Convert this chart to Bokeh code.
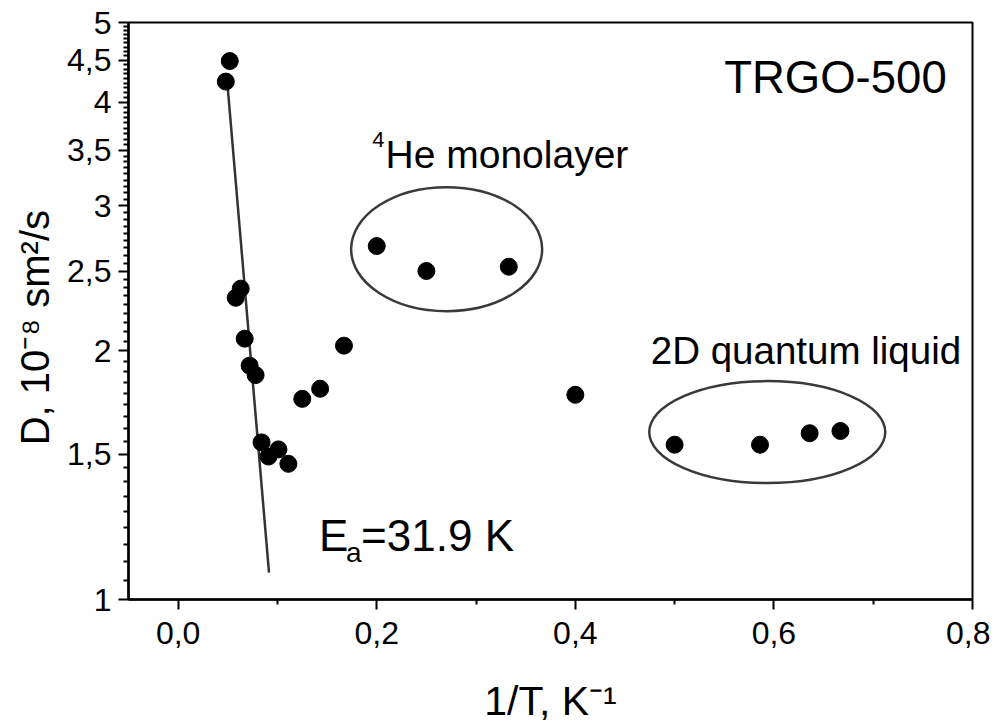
from bokeh.plotting import figure
from bokeh.models import Range1d, FixedTicker, CustomJSTickFormatter, ColumnDataSource
from bokeh.core.properties import value
from bokeh.embed import file_html
from bokeh.resources import INLINE

# ---- data ----
inv_T = [0.048, 0.052, 0.058, 0.063, 0.067, 0.072, 0.078, 0.084, 0.091, 0.101, 0.111,
         0.125, 0.143, 0.167, 0.200, 0.250, 0.333, 0.400, 0.500, 0.586, 0.636, 0.667]
D_vals = [4.24, 4.49, 2.32, 2.38, 2.07, 1.92, 1.87, 1.55, 1.49, 1.52, 1.46,
          1.75, 1.80, 2.03, 2.68, 2.50, 2.53, 1.77, 1.54, 1.54, 1.59, 1.60]

fit_x = [0.049, 0.0915]
fit_y = [4.30, 1.078]

x_ticks = [0.0, 0.2, 0.4, 0.6, 0.8]
x_tick_labels = ["0,0", "0,2", "0,4", "0,6", "0,8"]
x_minor = [0.1, 0.3, 0.5, 0.7]

y_ticks = [1.0, 1.5, 2.0, 2.5, 3.0, 3.5, 4.0, 4.5, 5.0]
y_tick_labels = ["1", "1,5", "2", "2,5", "3", "3,5", "4", "4,5", "5"]

# group ellipses (centre in data coords)
ell_x = [0.2704, 0.5933]
ell_y = [2.657, 1.595]

FONT = value("Liberation Sans")

# minor ticks on y: 8 between each pair of majors
y_minor = []
for a, b in zip(y_ticks[:-1], y_ticks[1:]):
    for k in range(1, 9):
        y_minor.append(a + (b - a) * k / 9)

p = figure(width=990, height=726, output_backend="svg", toolbar_location=None,
           x_range=Range1d(-0.05, 0.8), y_range=Range1d(1, 5), y_axis_type="log",
           min_border_left=128, min_border_right=18, min_border_top=22, min_border_bottom=125)

p.xgrid.visible = False
p.ygrid.visible = False
p.outline_line_color = "black"
p.outline_line_width = 2
p.background_fill_color = "white"
p.border_fill_color = "white"

fmt_code = """
const i = tvals.findIndex(t => Math.abs(t - tick) < 1e-9);
return i >= 0 ? tlabels[i] : '';
"""
p.xaxis.ticker = FixedTicker(ticks=x_ticks, minor_ticks=x_minor)
p.xaxis.formatter = CustomJSTickFormatter(args=dict(tvals=x_ticks, tlabels=x_tick_labels), code=fmt_code)
p.yaxis.ticker = FixedTicker(ticks=y_ticks, minor_ticks=y_minor)
p.yaxis.formatter = CustomJSTickFormatter(args=dict(tvals=y_ticks, tlabels=y_tick_labels), code=fmt_code)

for ax in (p.xaxis[0], p.yaxis[0]):
    ax.axis_line_width = 2.5
    ax.axis_line_color = "black"
    ax.major_tick_line_color = "black"
    ax.minor_tick_line_color = "black"
    ax.major_tick_line_width = 2
    ax.minor_tick_line_width = 2
    ax.major_tick_in = 0
    ax.major_tick_out = 10
    ax.minor_tick_in = 0
    ax.minor_tick_out = 5
    ax.major_label_text_font = "Liberation Sans"
    ax.major_label_text_font_size = "32px"
    ax.major_label_text_color = "black"
    ax.axis_label_text_font = "Liberation Sans"
    ax.axis_label_text_font_style = "normal"
    ax.axis_label_text_color = "black"

p.xaxis.major_label_standoff = 12
p.xaxis.axis_label = "1/T, K\u207b\u00b9"
p.xaxis.axis_label_text_font_size = "41px"
p.xaxis.axis_label_standoff = 31

p.yaxis.major_label_standoff = 7
p.yaxis.axis_label = "D, 10\u207b\u2078 sm\u00b2/s\u00a0\u00a0\u00a0"
p.yaxis.axis_label_text_font_size = "40px"
p.yaxis.axis_label_standoff = 7

# ellipses around groups
p.ellipse(x=ell_x, y=ell_y, width=[191, 236], height=[124, 102],
          width_units="screen", height_units="screen",
          fill_color=None, line_color="#3a3a3a", line_width=2.5)

# Arrhenius fit line
p.line(fit_x, fit_y, line_color="#333333", line_width=2.5)

src = ColumnDataSource(dict(x=inv_T, y=D_vals))
p.scatter("x", "y", source=src, size=17, fill_color="black", line_color="black")

# annotations
p.text(x=[0.774], y=[4.115], text=["TRGO-500"], text_font=FONT, text_font_size="45.5px",
       text_align="right", text_baseline="alphabetic", text_color="black", y_offset=-15)

p.text(x=[0.2119], y=[3.338], text=["He monolayer"], text_font=FONT, text_font_size="39px",
       text_align="left", text_baseline="alphabetic", text_color="black",
       x_offset=-3, y_offset=-13)
p.text(x=[0.2119], y=[3.338], text=["4"], text_font=FONT, text_font_size="22px",
       text_align="right", text_baseline="alphabetic", text_color="black",
       x_offset=-4, y_offset=-28)

p.text(x=[0.479], y=[1.930], text=["2D quantum liquid"], text_font=FONT, text_font_size="38.5px",
       text_align="left", text_baseline="alphabetic", text_color="black",
       x_offset=-3, y_offset=-13)

p.text(x=[0.145], y=[1.143], text=["E"], text_font=FONT, text_font_size="44px",
       text_align="left", text_baseline="alphabetic", text_color="black",
       x_offset=-3, y_offset=-16)
p.text(x=[0.145], y=[1.143], text=["a"], text_font=FONT, text_font_size="28px",
       text_align="left", text_baseline="alphabetic", text_color="black",
       x_offset=24, y_offset=1)
p.text(x=[0.145], y=[1.143], text=["=31.9 K"], text_font=FONT, text_font_size="44px",
       text_align="left", text_baseline="alphabetic", text_color="black",
       x_offset=39, y_offset=-16)

open("out.html", "w").write(file_html(p, INLINE))
